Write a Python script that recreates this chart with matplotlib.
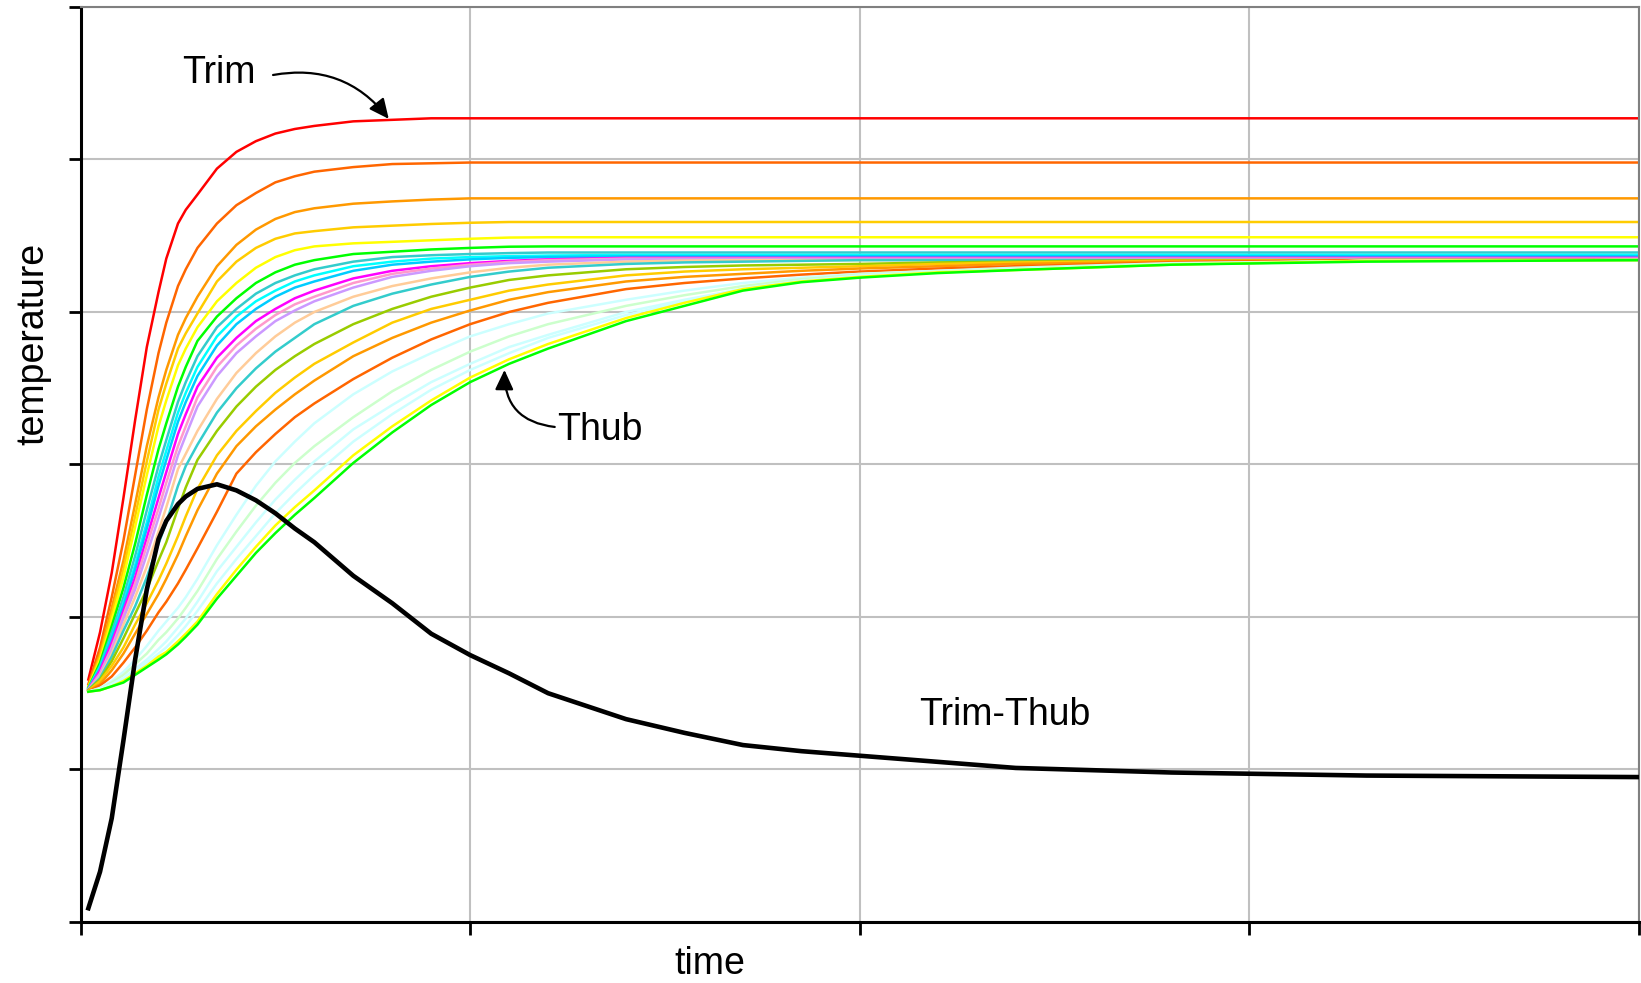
import matplotlib

matplotlib.use("Agg")
import matplotlib.pyplot as plt

plt.rcParams["font.family"] = ["Liberation Sans", "DejaVu Sans"]

# sample times shared by every curve
TIME = [0.02, 0.05, 0.08, 0.11, 0.14, 0.17, 0.2, 0.22, 0.25, 0.27, 0.3, 0.35,
        0.4, 0.45, 0.5, 0.55, 0.6, 0.7, 0.8, 0.9, 1.0, 1.1, 1.2, 1.4,
        1.55, 1.7, 1.85, 2.0, 2.2, 2.4, 2.8, 3.3, 4.0]

# temperature at each radial station, rim (Trim) first, hub (Thub) last
T_RIM = [1.59, 1.90, 2.29, 2.78, 3.29, 3.77, 4.13, 4.35, 4.58, 4.67, 4.77, 4.94,
         5.05, 5.12, 5.17, 5.20, 5.22, 5.25, 5.26, 5.27] + [5.27] * 13
T_02 = [1.56, 1.80, 2.13, 2.50, 2.93, 3.36, 3.73, 3.93, 4.17, 4.28, 4.42, 4.58,
        4.70, 4.78, 4.85, 4.89, 4.92, 4.95, 4.97, 4.975, 4.98] + [4.98] * 12
T_03 = [1.545, 1.76, 2.06, 2.37, 2.74, 3.12, 3.44, 3.62, 3.85, 3.96, 4.10, 4.30,
        4.44, 4.54, 4.61, 4.655, 4.68, 4.71, 4.725, 4.737, 4.745] + [4.745] * 12
T_04 = [1.54, 1.74, 2.02, 2.31, 2.66, 3.02, 3.36, 3.53, 3.76, 3.86, 3.99, 4.20,
        4.33, 4.42, 4.48, 4.515, 4.53, 4.555, 4.566, 4.577, 4.585] + [4.59] * 12
T_05 = [1.54, 1.72, 1.98, 2.26, 2.59, 2.93, 3.25, 3.42, 3.65, 3.76, 3.90, 4.07,
        4.19, 4.29, 4.36, 4.405, 4.43, 4.45, 4.46, 4.47, 4.48, 4.488] + [4.49] * 11
T_06 = [1.535, 1.70, 1.94, 2.19, 2.48, 2.80, 3.10, 3.27, 3.51, 3.64, 3.81, 3.97,
        4.09, 4.19, 4.26, 4.31, 4.34, 4.38, 4.395, 4.41, 4.42, 4.428] + [4.43] * 11
T_07 = [1.53, 1.68, 1.90, 2.13, 2.40, 2.70, 2.99, 3.16, 3.41, 3.54, 3.71, 3.90,
        4.02, 4.12, 4.19, 4.24, 4.28, 4.33, 4.36, 4.372, 4.38, 4.386] + [4.39] * 11
T_08 = [1.53, 1.67, 1.87, 2.09, 2.34, 2.62, 2.92, 3.09, 3.34, 3.47, 3.64, 3.84,
        3.97, 4.07, 4.14, 4.20, 4.24, 4.30, 4.33, 4.35, 4.36, 4.366, 4.37] + [4.374] * 10
T_09 = [1.53, 1.66, 1.86, 2.07, 2.31, 2.58, 2.86, 3.03, 3.28, 3.41, 3.58, 3.78,
        3.92, 4.02, 4.10, 4.16, 4.20, 4.27, 4.31, 4.33, 4.345, 4.355, 4.36] + [4.365] * 10
T_10 = [1.525, 1.65, 1.83, 2.04, 2.26, 2.52, 2.78, 2.95, 3.20, 3.33, 3.51, 3.70,
        3.83, 3.94, 4.02, 4.09, 4.14, 4.22, 4.27, 4.30, 4.32, 4.335, 4.345] + [4.355] * 10
T_11 = [1.525, 1.63, 1.80, 2.01, 2.22, 2.47, 2.71, 2.88, 3.12, 3.25, 3.44, 3.64,
        3.78, 3.89, 3.98, 4.05, 4.10, 4.19, 4.25, 4.285, 4.31, 4.328, 4.34] + [4.35] * 10
T_12 = [1.52, 1.625, 1.78, 1.99, 2.18, 2.41, 2.65, 2.81, 3.06, 3.19, 3.38, 3.58,
        3.73, 3.84, 3.94, 4.01, 4.07, 4.16, 4.23, 4.27, 4.30, 4.32, 4.33] + [4.345] * 10
T_13 = [1.52, 1.61, 1.76, 1.95, 2.13, 2.33, 2.56, 2.72, 2.97, 3.07, 3.22, 3.43,
        3.60, 3.73, 3.84, 3.93, 4.00, 4.10, 4.17, 4.22, 4.26, 4.29, 4.31, 4.33,
        4.337] + [4.34] * 8
T_14 = [1.52, 1.60, 1.74, 1.91, 2.07, 2.26, 2.48, 2.62, 2.86, 2.99, 3.13, 3.34,
        3.50, 3.63, 3.74, 3.83, 3.92, 4.04, 4.12, 4.18, 4.23, 4.265, 4.29, 4.315,
        4.325, 4.33, 4.335] + [4.34] * 6
T_15 = [1.52, 1.59, 1.71, 1.86, 2.02, 2.18, 2.37, 2.49, 2.71, 2.85, 3.03, 3.22,
        3.38, 3.51, 3.62, 3.71, 3.79, 3.92, 4.02, 4.10, 4.16, 4.21, 4.24, 4.28,
        4.295, 4.305, 4.31, 4.315, 4.325, 4.33, 4.34, 4.34, 4.34]
T_16 = [1.515, 1.58, 1.68, 1.80, 1.95, 2.09, 2.24, 2.35, 2.53, 2.66, 2.84, 3.06,
        3.22, 3.35, 3.47, 3.57, 3.66, 3.80, 3.93, 4.02, 4.08, 4.14, 4.18, 4.24,
        4.265, 4.28, 4.29, 4.30, 4.315, 4.325, 4.335, 4.34, 4.34]
T_17 = [1.515, 1.56, 1.65, 1.76, 1.89, 2.02, 2.15, 2.25, 2.41, 2.53, 2.70, 2.94,
        3.12, 3.25, 3.36, 3.46, 3.55, 3.71, 3.83, 3.93, 4.01, 4.08, 4.13, 4.20,
        4.23, 4.25, 4.27, 4.285, 4.30, 4.315, 4.33, 4.34, 4.34]
T_18 = [1.51, 1.55, 1.61, 1.70, 1.80, 1.91, 2.03, 2.10, 2.22, 2.31, 2.45, 2.69,
        2.94, 3.08, 3.20, 3.31, 3.40, 3.56, 3.70, 3.82, 3.92, 4.00, 4.06, 4.15,
        4.19, 4.22, 4.245, 4.265, 4.285, 4.30, 4.325, 4.34, 4.34]
T_19 = [1.51, 1.535, 1.58, 1.64, 1.72, 1.81, 1.91, 1.97, 2.06, 2.13, 2.25, 2.47,
        2.67, 2.86, 3.02, 3.15, 3.27, 3.46, 3.61, 3.73, 3.84, 3.92, 3.99, 4.08,
        4.14, 4.19, 4.225, 4.25, 4.27, 4.29, 4.32, 4.335, 4.34]
T_20 = [1.51, 1.53, 1.57, 1.62, 1.69, 1.76, 1.85, 1.90, 1.99, 2.06, 2.17, 2.38,
        2.56, 2.73, 2.88, 3.01, 3.12, 3.31, 3.48, 3.62, 3.74, 3.84, 3.92, 4.04,
        4.11, 4.17, 4.215, 4.245, 4.265, 4.285, 4.315, 4.335, 4.34]
T_21 = [1.51, 1.53, 1.56, 1.60, 1.66, 1.72, 1.79, 1.84, 1.93, 1.99, 2.10, 2.30,
        2.46, 2.62, 2.77, 2.90, 3.02, 3.23, 3.39, 3.54, 3.66, 3.77, 3.85, 4.00,
        4.08, 4.15, 4.20, 4.24, 4.26, 4.28, 4.31, 4.335, 4.34]
T_22 = [1.51, 1.525, 1.55, 1.59, 1.64, 1.70, 1.76, 1.80, 1.88, 1.94, 2.04, 2.22,
        2.38, 2.53, 2.68, 2.81, 2.93, 3.15, 3.33, 3.49, 3.62, 3.73, 3.83, 3.98,
        4.07, 4.155, 4.205, 4.235, 4.26, 4.28, 4.31, 4.335, 4.34]
T_23 = [1.51, 1.52, 1.545, 1.58, 1.63, 1.68, 1.74, 1.77, 1.84, 1.89, 1.97, 2.15,
        2.31, 2.46, 2.60, 2.72, 2.83, 3.06, 3.25, 3.42, 3.57, 3.69, 3.79, 3.96,
        4.06, 4.15, 4.20, 4.23, 4.26, 4.275, 4.31, 4.335, 4.34]
T_HUB = [1.51, 1.52, 1.545, 1.57, 1.62, 1.67, 1.72, 1.755, 1.82, 1.87, 1.95, 2.12,
         2.27, 2.42, 2.55, 2.67, 2.78, 3.01, 3.21, 3.39, 3.54, 3.66, 3.76, 3.94,
         4.04, 4.14, 4.195, 4.225, 4.255, 4.275, 4.31, 4.33, 4.34]

TRIM_MINUS_THUB = [0.09, 0.33, 0.68, 1.19, 1.72, 2.18, 2.51, 2.63, 2.74, 2.79, 2.84, 2.87,
                   2.83, 2.765, 2.68, 2.58, 2.49, 2.27, 2.09, 1.89, 1.75, 1.63, 1.50, 1.33,
                   1.24, 1.16, 1.12, 1.09, 1.05, 1.01, 0.98, 0.96, 0.95]

CURVE_COLORS = ["#FF0000", "#FF6600", "#FF9900", "#FFCC00", "#FFFF00", "#00FF00",
                "#33CCCC", "#00FFFF", "#00CCFF", "#FF00FF", "#FF99CC", "#CC99FF",
                "#FFCC99", "#33CCCC", "#99CC00", "#FFCC00", "#FF9900", "#FF6600",
                "#CCFFFF", "#CCFFCC", "#CCFFFF", "#CCFFFF", "#FFFF00", "#00FF00"]

curves = [T_RIM, T_02, T_03, T_04, T_05, T_06, T_07, T_08, T_09, T_10, T_11, T_12,
          T_13, T_14, T_15, T_16, T_17, T_18, T_19, T_20, T_21, T_22, T_23, T_HUB]

figure = plt.figure(figsize=(16.41, 9.83), dpi=100)
axis = figure.add_axes([0.0491, 0.0621, 0.9497, 0.9308])

for temps, color in zip(curves, CURVE_COLORS):
    axis.plot(TIME, temps, color=color, linewidth=1.8, zorder=2)
axis.plot(TIME, TRIM_MINUS_THUB, color="black", linewidth=3.3, zorder=3)

axis.set_xlim(0, 4)
axis.set_ylim(0, 6)
axis.set_xticks(range(0, 5))
axis.set_yticks(range(0, 7))
axis.tick_params(direction="out", length=9, width=2, color="black",
                 labelleft=False, labelbottom=False)
axis.grid(color="#C0C0C0", linewidth=1.5, zorder=0)
axis.set_axisbelow(True)
for side in ("left", "bottom"):
    axis.spines[side].set_linewidth(2.2)
    axis.spines[side].set_color("black")
for side in ("top", "right"):
    axis.spines[side].set_linewidth(1.5)
    axis.spines[side].set_color("#808080")

text_size = 27
arrow_props = dict(arrowstyle="-|>,head_length=0.6,head_width=0.28", color="black",
                   linewidth=1.6, shrinkA=0, shrinkB=0, mutation_scale=20)

axis.text(0.26, 5.50, "Trim", fontsize=text_size, va="baseline", ha="left")
axis.annotate("", xy=(0.791, 5.266), xytext=(0.494, 5.554),
              arrowprops=dict(arrow_props, connectionstyle="arc3,rad=-0.3"))

axis.text(1.224, 3.16, "Thub", fontsize=text_size, va="baseline", ha="left")
axis.annotate("", xy=(1.088, 3.62), xytext=(1.217, 3.246),
              arrowprops=dict(arrow_props, connectionstyle="arc3,rad=-0.45"))

axis.text(2.152, 1.292, "Trim-Thub", fontsize=text_size, va="baseline", ha="left")

figure.text(0.4327, 0.009, "time", fontsize=text_size, ha="center", va="baseline")
figure.text(0.0204, 0.650, "temperature", fontsize=text_size, rotation=90,
            ha="center", va="center")

figure.savefig("out.png", dpi=100)
plt.close(figure)
